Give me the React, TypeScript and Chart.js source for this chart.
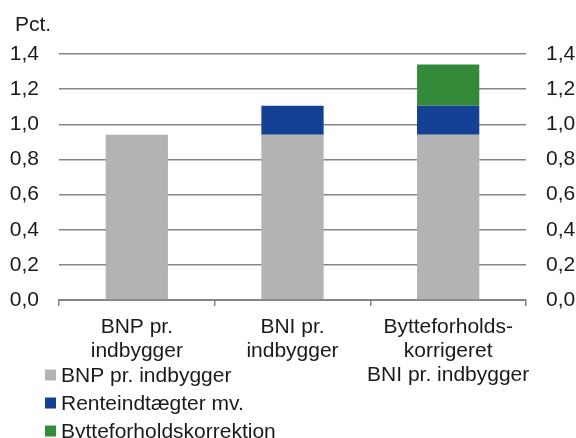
import React, { useEffect, useRef } from "react";
import { Chart, registerables } from "chart.js";

Chart.register(...registerables);

const categories: string[][] = [
  ["BNP pr.", "indbygger"],
  ["BNI pr.", "indbygger"],
  ["Bytteforholds-", "korrigeret", "BNI pr. indbygger"],
];
const seriesNames = ["BNP pr. indbygger", "Renteindtægter mv.", "Bytteforholdskorrektion"];
const bnpValues: (number | null)[] = [0.94, 0.94, 0.94];
const renteValues: (number | null)[] = [null, 0.165, 0.165];
const bytteValues: (number | null)[] = [null, null, 0.235];
const seriesColors = ["#b3b3b3", "#144194", "#338b3a"];
const yMin = 0;
const yMax = 1.4;
const yStep = 0.2;
const unitLabel = "Pct.";

const FONT = "'Liberation Sans', Arial, sans-serif";
const TEXT = "#1a1a1a";
const GRID = "#858585";

export default function App() {
  const ref = useRef<HTMLCanvasElement | null>(null);

  useEffect(() => {
    if (!ref.current) return;
    const fmt = (v: any) => Number(v).toFixed(1).replace(".", ",");

    const overlay = {
      id: "overlay",
      afterDraw(chart: any) {
        const ctx = chart.ctx as CanvasRenderingContext2D;
        ctx.save();
        ctx.font = `21px ${FONT}`;
        ctx.fillStyle = TEXT;
        ctx.textBaseline = "middle";
        ctx.textAlign = "left";
        ctx.fillText(unitLabel, 15, 25);
        chart.data.datasets.forEach((ds: any, i: number) => {
          const cy = 375 + i * 28;
          ctx.fillStyle = ds.backgroundColor;
          ctx.fillRect(45, cy - 5.5, 11, 11);
          ctx.fillStyle = TEXT;
          ctx.fillText(ds.label, 61, cy + 1);
        });
        ctx.restore();
      },
    };

    const yTicks = {
      stepSize: yStep,
      padding: 20,
      color: TEXT,
      font: { family: FONT, size: 21 },
      callback: (v: any) => fmt(v),
    };

    const chart = new Chart(ref.current, {
      type: "bar",
      data: {
        labels: categories,
        datasets: [
          { label: seriesNames[0], data: bnpValues, backgroundColor: seriesColors[0] },
          { label: seriesNames[1], data: renteValues, backgroundColor: seriesColors[1] },
          { label: seriesNames[2], data: bytteValues, backgroundColor: seriesColors[2] },
        ],
      },
      options: {
        animation: false,
        responsive: false,
        devicePixelRatio: 1,
        layout: { padding: { top: 54, left: 0, right: 0, bottom: 0 } },
        datasets: { bar: { barPercentage: 0.4, categoryPercentage: 1 } } as any,
        plugins: {
          legend: { display: false },
          tooltip: { enabled: false },
          title: { display: false },
        },
        scales: {
          x: {
            stacked: true,
            grid: {
              drawOnChartArea: false,
              drawTicks: true,
              tickLength: 6,
              color: GRID,
              lineWidth: 1.5,
            },
            border: { display: true, color: GRID, width: 2 },
            ticks: {
              color: TEXT,
              padding: 9,
              maxRotation: 0,
              autoSkip: false,
              font: { family: FONT, size: 21, lineHeight: 24 / 21 },
            },
            afterFit: (s: any) => {
              s.height = 138;
            },
          },
          y: {
            stacked: true,
            position: "left",
            min: yMin,
            max: yMax,
            ticks: yTicks,
            grid: { color: GRID, lineWidth: 1.5, drawTicks: false },
            border: { display: false },
            afterFit: (s: any) => {
              s.width = 59;
            },
          },
          y2: {
            position: "right",
            min: yMin,
            max: yMax,
            ticks: yTicks,
            grid: { display: false, drawTicks: false },
            border: { display: false },
            afterFit: (s: any) => {
              s.width = 50;
            },
          },
        },
      } as any,
      plugins: [overlay],
    });
    return () => chart.destroy();
  }, []);

  return (
    <div style={{ position: "absolute", left: 0, top: 0, width: 576, height: 438, background: "#fff" }}>
      <canvas ref={ref} width={576} height={438} style={{ display: "block", width: 576, height: 438 }} />
    </div>
  );
}
